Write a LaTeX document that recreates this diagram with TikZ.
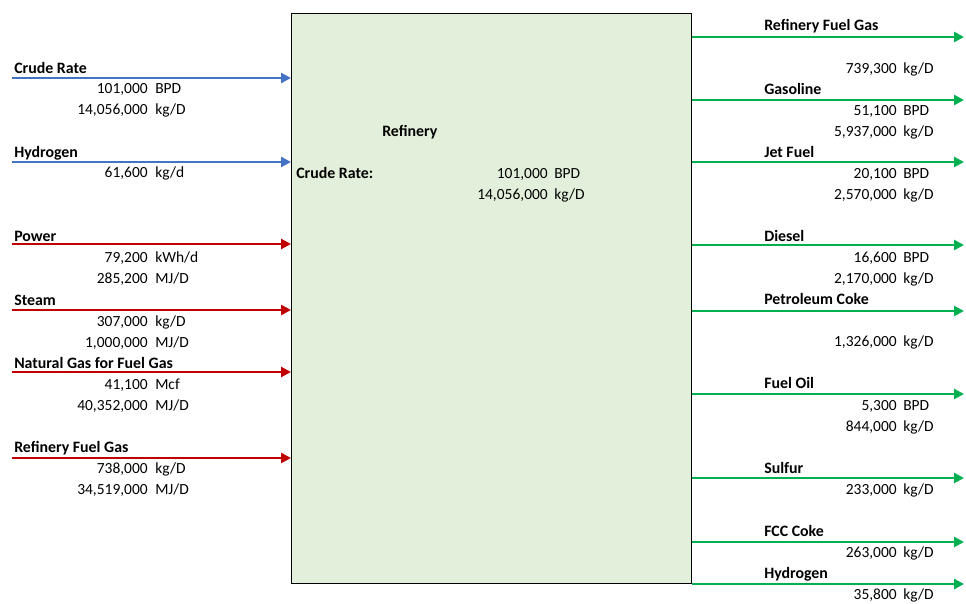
\documentclass[tikz,border=0pt]{standalone}
\usepackage{fontspec}
\setmainfont{Carlito}
\usetikzlibrary{arrows.meta}
\definecolor{inblue}{RGB}{68,114,196}
\definecolor{inred}{RGB}{192,0,0}
\definecolor{outgreen}{RGB}{0,176,80}
\definecolor{boxgreen}{RGB}{226,239,218}
\tikzset{
  flow/.style={line width=2pt, -{Triangle[length=7.5pt,width=7.5pt]}},
  lbl/.style={anchor=base west, inner sep=0pt, font=\fontsize{11.9}{13}\selectfont\bfseries},
  num/.style={anchor=base east, inner sep=0pt, font=\fontsize{11.6}{13}\selectfont},
  unit/.style={anchor=base west, inner sep=0pt, font=\fontsize{11.6}{13}\selectfont}
}

\begin{document}
\begin{tikzpicture}[x=0.75pt, y=-0.75pt]
  \useasboundingbox (0,0) rectangle (966,603);
  % refinery box
  \node[draw=black, line width=1.1pt, fill=boxgreen, anchor=north west, inner sep=0pt,
        minimum width=300pt, minimum height=427.5pt] (box) at (291,13) {};
  \node[lbl] (boxtitle) at (382,136) {Refinery};
  \node[lbl] (boxcrude) at (296,178) {Crude Rate:};
  \node[num] (boxbpd) at (548,178) {101,000}; \node[unit] (boxbpdu) at (554,178) {BPD};
  \node[num] (boxkg) at (548,199) {14,056,000}; \node[unit] (boxkgu) at (554,199) {kg/D};

  % inputs
  \coordinate (crude) at (12,78); \coordinate (hyin) at (12,162); \coordinate (power) at (12,244);
  \coordinate (steam) at (12,310); \coordinate (natgas) at (12,372); \coordinate (rfgin) at (12,458);
  \draw[flow, inblue] (crude) -- (crude -| box.west);
  \draw[flow, inblue] (hyin) -- (hyin -| box.west);
  \draw[flow, inred] (power) -- (power -| box.west);
  \draw[flow, inred] (steam) -- (steam -| box.west);
  \draw[flow, inred] (natgas) -- (natgas -| box.west);
  \draw[flow, inred] (rfgin) -- (rfgin -| box.west);

  \node[lbl] (crudelbl) at (14,73) {Crude Rate};
  \node[num] (crudebpd) at (148,93) {101,000}; \node[unit] (crudebpdu) at (155,93) {BPD};
  \node[num] (crudekg) at (148,114) {14,056,000}; \node[unit] (crudekgu) at (155,114) {kg/D};
  \node[lbl] (hyinlbl) at (14,157) {Hydrogen};
  \node[num] (hyinkg) at (148,177) {61,600}; \node[unit] (hyinkgu) at (155,177) {kg/d};
  \node[lbl] (powerlbl) at (14,241) {Power};
  \node[num] (powerkwh) at (148,262) {79,200}; \node[unit] (powerkwhu) at (155,262) {kWh/d};
  \node[num] (powermj) at (148,283) {285,200}; \node[unit] (powermju) at (155,283) {MJ/D};
  \node[lbl] (steamlbl) at (14,305) {Steam};
  \node[num] (steamkg) at (148,326) {307,000}; \node[unit] (steamkgu) at (155,326) {kg/D};
  \node[num] (steammj) at (148,347) {1,000,000}; \node[unit] (steammju) at (155,347) {MJ/D};
  \node[lbl] (natgaslbl) at (14,368) {Natural Gas for Fuel Gas};
  \node[num] (natgasmcf) at (148,389) {41,100}; \node[unit] (natgasmcfu) at (155,389) {Mcf};
  \node[num] (natgasmj) at (148,410) {40,352,000}; \node[unit] (natgasmju) at (155,410) {MJ/D};
  \node[lbl] (rfginlbl) at (14,452) {Refinery Fuel Gas};
  \node[num] (rfginkg) at (148,473) {738,000}; \node[unit] (rfginkgu) at (155,473) {kg/D};
  \node[num] (rfginmj) at (148,494) {34,519,000}; \node[unit] (rfginmju) at (155,494) {MJ/D};

  % outputs
  \coordinate (rfgout) at (964,37); \coordinate (gasoline) at (964,100); \coordinate (jet) at (964,162);
  \coordinate (diesel) at (964,245); \coordinate (coke) at (964,311); \coordinate (fueloil) at (964,394);
  \coordinate (sulfur) at (964,478); \coordinate (fcc) at (964,542); \coordinate (hyout) at (964,584);
  \draw[flow, outgreen] (rfgout -| box.east) -- (rfgout);
  \draw[flow, outgreen] (gasoline -| box.east) -- (gasoline);
  \draw[flow, outgreen] (jet -| box.east) -- (jet);
  \draw[flow, outgreen] (diesel -| box.east) -- (diesel);
  \draw[flow, outgreen] (coke -| box.east) -- (coke);
  \draw[flow, outgreen] (fueloil -| box.east) -- (fueloil);
  \draw[flow, outgreen] (sulfur -| box.east) -- (sulfur);
  \draw[flow, outgreen] (fcc -| box.east) -- (fcc);
  \draw[flow, outgreen] (hyout -| box.east) -- (hyout);

  \node[lbl] (rfgoutlbl) at (764,31) {Refinery Fuel Gas};
  \node[num] (rfgoutkg) at (897,73) {739,300}; \node[unit] (rfgoutkgu) at (903,73) {kg/D};
  \node[lbl] (gasolinelbl) at (764,94) {Gasoline};
  \node[num] (gasolinebpd) at (897,115) {51,100}; \node[unit] (gasolinebpdu) at (903,115) {BPD};
  \node[num] (gasolinekg) at (897,136) {5,937,000}; \node[unit] (gasolinekgu) at (903,136) {kg/D};
  \node[lbl] (jetlbl) at (764,157) {Jet Fuel};
  \node[num] (jetbpd) at (897,178) {20,100}; \node[unit] (jetbpdu) at (903,178) {BPD};
  \node[num] (jetkg) at (897,199) {2,570,000}; \node[unit] (jetkgu) at (903,199) {kg/D};
  \node[lbl] (diesellbl) at (764,241) {Diesel};
  \node[num] (dieselbpd) at (897,262) {16,600}; \node[unit] (dieselbpdu) at (903,262) {BPD};
  \node[num] (dieselkg) at (897,283) {2,170,000}; \node[unit] (dieselkgu) at (903,283) {kg/D};
  \node[lbl] (cokelbl) at (764,304) {Petroleum Coke};
  \node[num] (cokekg) at (897,346) {1,326,000}; \node[unit] (cokekgu) at (903,346) {kg/D};
  \node[lbl] (fueloillbl) at (764,388) {Fuel Oil};
  \node[num] (fueloilbpd) at (897,410) {5,300}; \node[unit] (fueloilbpdu) at (903,410) {BPD};
  \node[num] (fueloilkg) at (897,431) {844,000}; \node[unit] (fueloilkgu) at (903,431) {kg/D};
  \node[lbl] (sulfurlbl) at (764,473) {Sulfur};
  \node[num] (sulfurkg) at (897,494) {233,000}; \node[unit] (sulfurkgu) at (903,494) {kg/D};
  \node[lbl] (fcclbl) at (764,536) {FCC Coke};
  \node[num] (fcckg) at (897,557) {263,000}; \node[unit] (fcckgu) at (903,557) {kg/D};
  \node[lbl] (hyoutlbl) at (764,578) {Hydrogen};
  \node[num] (hyoutkg) at (897,599) {35,800}; \node[unit] (hyoutkgu) at (903,599) {kg/D};
\end{tikzpicture}
\end{document}
